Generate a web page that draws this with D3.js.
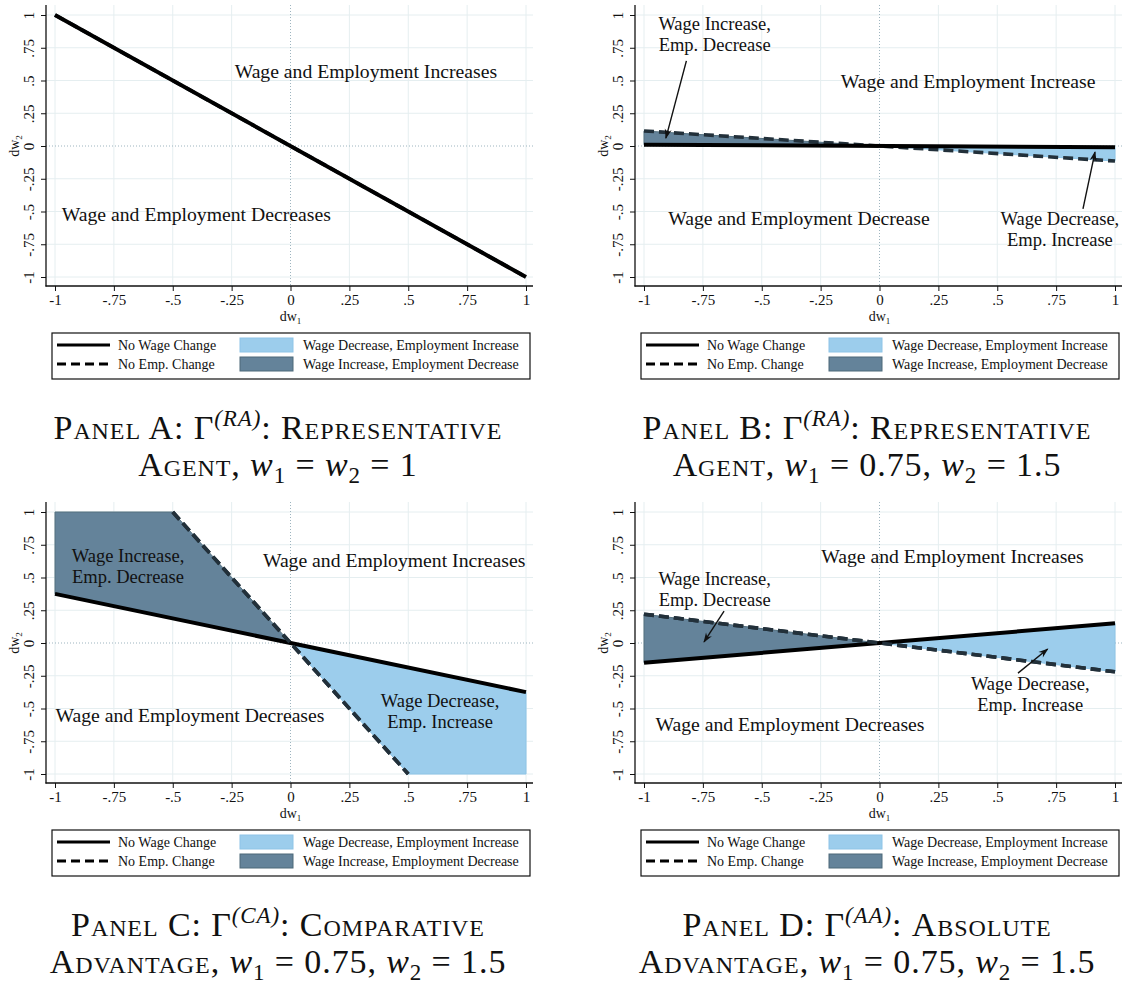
<!DOCTYPE html>
<html lang="en">
<head>
<meta charset="utf-8">
<title>Wage and Employment Changes</title>
<script src="https://cdn.jsdelivr.net/npm/d3@7"></script>
<style>
    body { margin: 0; background: #fff; }
    svg text { font-family: "Liberation Serif", "Times New Roman", serif; fill: #111; }
</style>
</head>
<body>
<div id="chart"></div>
<script>

    // axis ticks (same on both axes)
    var tickValues = [-1, -.75, -.5, -.25, 0, .25, .5, .75, 1];
    var tickLabels = ["-1", "-.75", "-.5", "-.25", "0", ".25", ".5", ".75", "1"];

    // lines per panel, points as [dw1, dw2]
    var noWageChange = [
        [[-1, 1], [1, -1]],
        [[-1, 0.01], [1, -0.01]],
        [[-1, 0.375], [1, -0.375]],
        [[-1, -0.15], [1, 0.15]]
    ];
    var noEmpChange = [
        [[-1, 1], [1, -1]],
        [[-1, 0.115], [1, -0.115]],
        [[-0.5, 1], [0.5, -1]],
        [[-1, 0.22], [1, -0.22]]
    ];

    // shaded regions per panel
    var wageIncEmpDec = [
        [],
        [[-1, 0.01], [-1, 0.115], [0, 0]],
        [[-1, 0.375], [-1, 1], [-0.5, 1], [0, 0]],
        [[-1, -0.15], [-1, 0.22], [0, 0]]
    ];
    var wageDecEmpInc = [
        [],
        [[0, 0], [1, -0.01], [1, -0.115]],
        [[0, 0], [0.5, -1], [1, -1], [1, -0.375]],
        [[0, 0], [1, 0.15], [1, -0.22]]
    ];

    var legendLines = ["No Wage Change", "No Emp. Change"];
    var legendAreas = ["Wage Decrease, Employment Increase", "Wage Increase, Employment Decrease"];

    // region names in data coordinates: [dw1, dw2, text]
    var regionLabels = [
        [[0.32, 0.565, "Wage and Employment Increases"],
         [-0.40, -0.52, "Wage and Employment Decreases"]],
        [[0.376, 0.49, "Wage and Employment Increase"],
         [-0.342, -0.55, "Wage and Employment Decrease"]],
        [[0.44, 0.63, "Wage and Employment Increases"],
         [-0.427, -0.557, "Wage and Employment Decreases"]],
        [[0.31, 0.664, "Wage and Employment Increases"],
         [-0.38, -0.62, "Wage and Employment Decreases"]]
    ];
    // two-line notes: [dw1, dw2 of first line, line1, line2]
    var notes = [
        [],
        [[-0.70, 0.935, "Wage Increase,", "Emp. Decrease"],
         [0.766, -0.553, "Wage Decrease,", "Emp. Increase"]],
        [[-0.69, 0.668, "Wage Increase,", "Emp. Decrease"],
         [0.635, -0.44, "Wage Decrease,", "Emp. Increase"]],
        [[-0.70, 0.49, "Wage Increase,", "Emp. Decrease"],
         [0.64, -0.31, "Wage Decrease,", "Emp. Increase"]]
    ];

    // arrows: [from, to]
    var arrows = [
        [],
        [[[-0.82, 0.65], [-0.907, 0.06]], [[0.864, -0.48], [0.915, -0.046]]],
        [],
        [[[-0.66, 0.244], [-0.745, 0.008]], [[0.588, -0.23], [0.714, -0.046]]]
    ];

    // captions: segments [text, kind]
    var captions = [
        [[["Panel A: ", "sc"], ["Γ", "n"], ["(RA)", "sup"], [": Representative", "sc"]],
         [["Agent, ", "sc"], ["w", "it"], ["1", "sub"], [" = ", "n"], ["w", "it"], ["2", "sub"], [" = 1", "n"]]],
        [[["Panel B: ", "sc"], ["Γ", "n"], ["(RA)", "sup"], [": Representative", "sc"]],
         [["Agent, ", "sc"], ["w", "it"], ["1", "sub"], [" = 0.75, ", "n"], ["w", "it"], ["2", "sub"], [" = 1.5", "n"]]],
        [[["Panel C: ", "sc"], ["Γ", "n"], ["(CA)", "sup"], [": Comparative", "sc"]],
         [["Advantage, ", "sc"], ["w", "it"], ["1", "sub"], [" = 0.75, ", "n"], ["w", "it"], ["2", "sub"], [" = 1.5", "n"]]],
        [[["Panel D: ", "sc"], ["Γ", "n"], ["(AA)", "sup"], [": Absolute", "sc"]],
         [["Advantage, ", "sc"], ["w", "it"], ["1", "sub"], [" = 0.75, ", "n"], ["w", "it"], ["2", "sub"], [" = 1.5", "n"]]]
    ];

    var offsets = [[0, 0], [589, 0], [0, 497], [589, 497]];
    var lightBlue = "#9ccdec",
        slate = "#64839a",
        dashColor = "#22303a";

    var svg = d3.select("#chart").append("svg")
        .attr("width", 1126)
        .attr("height", 985);

    svg.append("defs").append("marker")
        .attr("id", "arrowhead")
        .attr("markerUnits", "userSpaceOnUse")
        .attr("viewBox", "-10 -5 12 10")
        .attr("refX", 0).attr("refY", 0)
        .attr("markerWidth", 12).attr("markerHeight", 10)
        .attr("orient", "auto")
        .append("path")
        .attr("d", "M1,0 L-9,-3.5 L-6,0 L-9,3.5 Z")
        .attr("fill", "#111");

    var x = d3.scaleLinear().domain([-1, 1]).range([55, 526]);
    var y = d3.scaleLinear().domain([-1, 1]).range([277, 15]);
    var path = d3.line().x(function(d) { return x(d[0]); }).y(function(d) { return y(d[1]); });

    function drawPanel(g, i) {
        // grid
        g.selectAll("line.gridy").data(tickValues.filter(function(d) { return d !== 0; }))
            .enter().append("line")
            .attr("x1", 46).attr("x2", 533)
            .attr("y1", y).attr("y2", y)
            .attr("stroke", "#e5eef0").attr("stroke-width", 1);
        g.selectAll("line.gridx").data(tickValues.filter(function(d) { return d !== 0; }))
            .enter().append("line")
            .attr("y1", 5).attr("y2", 286)
            .attr("x1", x).attr("x2", x)
            .attr("stroke", "#e5eef0").attr("stroke-width", 1);
        // zero reference lines
        g.append("line").attr("x1", 46).attr("x2", 533).attr("y1", y(0)).attr("y2", y(0))
            .attr("stroke", "#9db4bf").attr("stroke-dasharray", "1,2");
        g.append("line").attr("y1", 5).attr("y2", 286).attr("x1", x(0)).attr("x2", x(0))
            .attr("stroke", "#9db4bf").attr("stroke-dasharray", "1,2");

        // shaded regions
        if (wageIncEmpDec[i].length) {
            g.append("path").attr("d", path(wageIncEmpDec[i]) + "Z")
                .attr("fill", slate).attr("stroke", "#54707f").attr("stroke-width", 1);
        }
        if (wageDecEmpInc[i].length) {
            g.append("path").attr("d", path(wageDecEmpInc[i]) + "Z")
                .attr("fill", lightBlue).attr("stroke", "#8ec4e7").attr("stroke-width", 1);
        }

        // lines
        g.append("path").attr("d", path(noEmpChange[i]))
            .attr("fill", "none").attr("stroke", dashColor)
            .attr("stroke-width", 3.6).attr("stroke-dasharray", "10,5");
        g.append("path").attr("d", path(noWageChange[i]))
            .attr("fill", "none").attr("stroke", "#000").attr("stroke-width", 4);
        if (i === 2 || i === 3) {
            g.append("path").attr("d", path(noEmpChange[i]))
                .attr("fill", "none").attr("stroke", dashColor)
                .attr("stroke-width", 3.6).attr("stroke-dasharray", "10,5");
        }

        // axes
        var yAxis = d3.axisLeft(y).tickValues(tickValues)
            .tickFormat(function(d, j) { return tickLabels[j]; })
            .tickSize(5);
        var gy = g.append("g").attr("transform", "translate(46,0)").call(yAxis);
        gy.select(".domain").remove();
        gy.selectAll(".tick line").attr("stroke", "#111");
        gy.selectAll(".tick text")
            .attr("transform", "rotate(-90)")
            .attr("x", 0).attr("y", -12).attr("dy", 0)
            .attr("text-anchor", "middle")
            .style("font-family", "Liberation Serif")
            .style("font-size", "15px");

        var xAxis = d3.axisBottom(x).tickValues(tickValues)
            .tickFormat(function(d, j) { return tickLabels[j]; })
            .tickSize(5);
        var gx = g.append("g").attr("transform", "translate(0,286)").call(xAxis);
        gx.select(".domain").remove();
        gx.selectAll(".tick line").attr("stroke", "#111");
        gx.selectAll(".tick text")
            .style("font-family", "Liberation Serif")
            .style("font-size", "15px");

        g.append("line").attr("x1", 46).attr("x2", 46).attr("y1", 5).attr("y2", 286.5)
            .attr("stroke", "#111").attr("stroke-width", 1.3);
        g.append("line").attr("x1", 45.5).attr("x2", 533).attr("y1", 286).attr("y2", 286)
            .attr("stroke", "#111").attr("stroke-width", 1.3);

        // axis titles
        var tx = g.append("text").attr("x", x(0)).attr("y", 321)
            .attr("text-anchor", "middle").style("font-size", "14px");
        tx.append("tspan").text("dw");
        tx.append("tspan").text("1").attr("dy", 3).style("font-size", "9px");
        var ty = g.append("text").attr("transform", "translate(19," + y(0) + ") rotate(-90)")
            .attr("text-anchor", "middle").style("font-size", "14px");
        ty.append("tspan").text("dw");
        ty.append("tspan").text("2").attr("dy", 3).style("font-size", "9px");

        // region labels
        g.selectAll("text.region").data(regionLabels[i]).enter().append("text")
            .attr("class", "region")
            .attr("x", function(d) { return x(d[0]); })
            .attr("y", function(d) { return y(d[1]); })
            .attr("dy", "0.33em")
            .attr("text-anchor", "middle")
            .style("font-size", "19.7px")
            .text(function(d) { return d[2]; });

        // two-line notes
        var nt = g.selectAll("text.note").data(notes[i]).enter().append("text")
            .attr("class", "note")
            .attr("text-anchor", "middle")
            .style("font-size", "18.5px");
        nt.append("tspan")
            .attr("x", function(d) { return x(d[0]); })
            .attr("y", function(d) { return y(d[1]); })
            .attr("dy", "0.33em")
            .text(function(d) { return d[2]; });
        nt.append("tspan")
            .attr("x", function(d) { return x(d[0]); })
            .attr("dy", "1.15em")
            .text(function(d) { return d[3]; });

        // arrows
        g.selectAll("line.arrow").data(arrows[i]).enter().append("line")
            .attr("x1", function(d) { return x(d[0][0]); })
            .attr("y1", function(d) { return y(d[0][1]); })
            .attr("x2", function(d) { return x(d[1][0]); })
            .attr("y2", function(d) { return y(d[1][1]); })
            .attr("stroke", "#111").attr("stroke-width", 1.4)
            .attr("marker-end", "url(#arrowhead)");

        // legend
        var lg = g.append("g");
        lg.append("rect").attr("x", 52).attr("y", 333).attr("width", 478).attr("height", 46)
            .attr("fill", "#fff").attr("stroke", "#111").attr("stroke-width", 1.2);
        legendLines.forEach(function(label, j) {
            var ly = 345 + j * 19;
            lg.append("line").attr("x1", 57).attr("x2", 110).attr("y1", ly).attr("y2", ly)
                .attr("stroke", "#000").attr("stroke-width", 3.2)
                .attr("stroke-dasharray", j === 1 ? "9,5" : null);
            lg.append("text").attr("x", 118).attr("y", ly).attr("dy", "0.33em")
                .style("font-size", "14px").text(label);
        });
        legendAreas.forEach(function(label, j) {
            var ly = 345 + j * 19;
            lg.append("rect").attr("x", 240).attr("y", ly - 7).attr("width", 53).attr("height", 14)
                .attr("fill", j === 0 ? lightBlue : slate)
                .attr("stroke", j === 0 ? "#8ec4e7" : "#4d6878");
            lg.append("text").attr("x", 303).attr("y", ly).attr("dy", "0.33em")
                .style("font-size", "14px").text(label);
        });

        // caption
        captions[i].forEach(function(segs, j) {
            var t = g.append("text")
                .attr("x", 278).attr("y", 439 + j * 37)
                .attr("text-anchor", "middle")
                .style("font-size", "34px")
                .style("letter-spacing", "0.9px");
            var prev = 0;
            segs.forEach(function(s) {
                var shift = s[1] === "sup" ? -13 : (s[1] === "sub" ? 7 : 0);
                var ts = t.append("tspan").text(s[0]).attr("dy", shift - prev);
                prev = shift;
                if (s[1] === "sc") ts.style("font-variant", "small-caps");
                if (s[1] === "it" || s[1] === "sup") ts.style("font-style", "italic");
                if (s[1] === "sup" || s[1] === "sub") ts.style("font-size", "23px");
            });
        });
    }

    offsets.forEach(function(o, i) {
        var g = svg.append("g").attr("transform", "translate(" + o[0] + "," + o[1] + ")");
        drawPanel(g, i);
    });
</script>
</body>
</html>
